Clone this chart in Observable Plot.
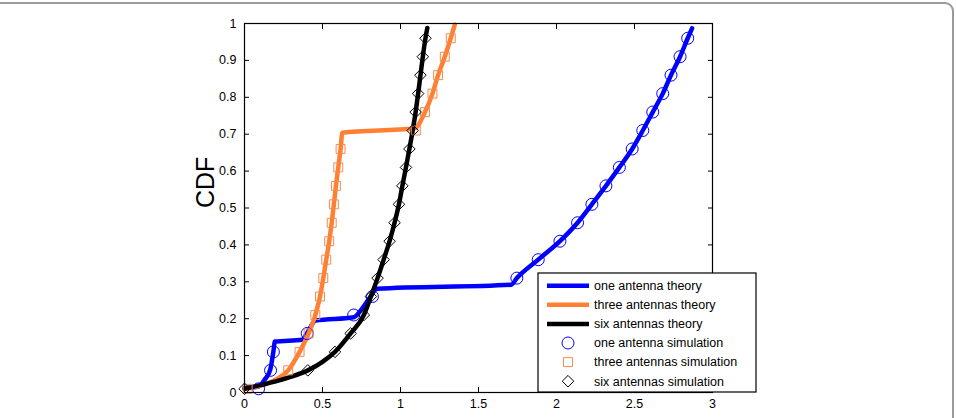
<!DOCTYPE html>
<html>
<head>
<meta charset="utf-8">
<script src="https://cdn.jsdelivr.net/npm/d3@7"></script>
<script src="https://cdn.jsdelivr.net/npm/@observablehq/plot@0.6"></script>
<style>
  html, body { margin: 0; padding: 0; background: #fff; overflow: hidden; }
  #wrap { position: relative; width: 956px; height: 418px; overflow: hidden; font-family: "Liberation Sans", Arial, Helvetica, sans-serif; }
  #border { position: absolute; top: 2px; left: -20px; width: 974px; height: 600px; border: 2px solid #9a9a9a; border-top-right-radius: 9px; box-sizing: border-box; }
  #chart { position: absolute; left: 0; top: 0; }
</style>
</head>
<body>
<div id="wrap"><div id="border"></div><div id="chart"></div></div>
<script>
// ---- data ----
const simCdf = [0.01, 0.06, 0.11, 0.16, 0.21, 0.26, 0.31, 0.36, 0.41, 0.46, 0.51, 0.56, 0.61, 0.66, 0.71, 0.76, 0.81, 0.86, 0.91, 0.96];

const oneTheoryX = [0, 0.09, 0.13, 0.165, 0.185, 0.195, 0.37, 0.40, 0.456, 0.70, 0.75, 0.80, 0.85, 1.71, 1.746, 1.883, 2.022, 2.135, 2.227, 2.317, 2.403, 2.485, 2.553, 2.617, 2.681, 2.734, 2.792, 2.841, 2.869];
const oneTheoryY = [0.012, 0.016, 0.035, 0.062, 0.11, 0.138, 0.143, 0.16, 0.195, 0.204, 0.225, 0.255, 0.281, 0.292, 0.31, 0.36, 0.41, 0.46, 0.51, 0.56, 0.61, 0.66, 0.71, 0.76, 0.81, 0.86, 0.91, 0.96, 0.987];

const threeTheoryX = [0, 0.1, 0.2, 0.28, 0.353, 0.411, 0.454, 0.484, 0.505, 0.524, 0.543, 0.559, 0.573, 0.586, 0.601, 0.616, 0.627, 1.09, 1.157, 1.205, 1.241, 1.284, 1.322, 1.348];
const threeTheoryY = [0.01, 0.018, 0.035, 0.06, 0.11, 0.16, 0.21, 0.26, 0.31, 0.36, 0.41, 0.46, 0.51, 0.56, 0.61, 0.66, 0.704, 0.716, 0.76, 0.81, 0.86, 0.91, 0.96, 0.997];

const sixTheoryX = [0, 0.1, 0.2, 0.3, 0.406, 0.5, 0.58, 0.68, 0.765, 0.81, 0.853, 0.892, 0.93, 0.962, 0.99, 1.012, 1.035, 1.057, 1.078, 1.097, 1.113, 1.128, 1.143, 1.16, 1.172];
const sixTheoryY = [0.01, 0.02, 0.03, 0.043, 0.06, 0.083, 0.11, 0.16, 0.21, 0.26, 0.31, 0.36, 0.41, 0.46, 0.51, 0.56, 0.61, 0.66, 0.71, 0.76, 0.81, 0.86, 0.91, 0.96, 0.988];

const oneSimX = [0.09, 0.167, 0.185, 0.402, 0.70, 0.82, 1.746, 1.883, 2.022, 2.135, 2.227, 2.317, 2.403, 2.485, 2.553, 2.617, 2.681, 2.734, 2.792, 2.841];
const threeSimX = [0.02, 0.28, 0.353, 0.411, 0.454, 0.484, 0.505, 0.524, 0.543, 0.559, 0.573, 0.586, 0.601, 0.616, 1.098, 1.157, 1.205, 1.241, 1.284, 1.322];
const sixSimX = [0, 0.406, 0.58, 0.68, 0.765, 0.81, 0.853, 0.892, 0.93, 0.962, 0.99, 1.012, 1.035, 1.057, 1.078, 1.097, 1.113, 1.128, 1.143, 1.16];

const xTicks = [0, 0.5, 1, 1.5, 2, 2.5, 3];
const yTicks = [0, 0.1, 0.2, 0.3, 0.4, 0.5, 0.6, 0.7, 0.8, 0.9, 1];
const legendLabels = ["one antenna theory", "three antennas theory", "six antennas theory", "one antenna simulation", "three antennas simulation", "six antennas simulation"];

// ---- build tables ----
const zip = (xs, ys) => xs.map((x, i) => ({x, y: ys[i]}));
const oneTheory = zip(oneTheoryX, oneTheoryY);
const threeTheory = zip(threeTheoryX, threeTheoryY);
const sixTheory = zip(sixTheoryX, sixTheoryY);
const oneSim = zip(oneSimX, simCdf);
const threeSim = zip(threeSimX, simCdf);
const sixSim = zip(sixSimX, simCdf);

const BLUE = "#0000ff", ORANGE = "#ff8033", BLACK = "#000000", ORANGE_M = "#f58a4e";
const fmt = d => String(d);

const svg = Plot.plot({
  width: 956,
  height: 418,
  marginLeft: 244,
  marginRight: 244,
  marginTop: 23,
  marginBottom: 26,
  style: {fontFamily: '"Liberation Sans", Arial, Helvetica, sans-serif', fontSize: "12px", background: "transparent", color: "#000"},
  x: {domain: [0, 3]},
  y: {domain: [0, 1]},
  marks: [
    Plot.line(oneTheory, {x: "x", y: "y", stroke: BLUE, strokeWidth: 4.5, curve: "monotone-x"}),
    Plot.line(threeTheory, {x: "x", y: "y", stroke: ORANGE, strokeWidth: 4.5, curve: "monotone-x"}),
    Plot.line(sixTheory, {x: "x", y: "y", stroke: BLACK, strokeWidth: 4.5, curve: "monotone-x"}),
    Plot.dot(oneSim, {x: "x", y: "y", r: 6, stroke: BLUE, strokeWidth: 1, fill: "none", symbol: "circle"}),
    Plot.dot(threeSim, {x: "x", y: "y", r: 5.7, stroke: ORANGE_M, strokeWidth: 1, fill: "none", symbol: "square2"}),
    Plot.dot(sixSim, {x: "x", y: "y", r: 5.2, stroke: BLACK, strokeWidth: 1, fill: "none", symbol: "diamond2"}),
    Plot.frame({stroke: "black", strokeWidth: 1.2}),
    Plot.axisX({anchor: "bottom", ticks: xTicks, tickFormat: fmt, tickSize: -5, tickPadding: 12, label: null, fontSize: 12.5}),
    Plot.axisX({anchor: "top", ticks: xTicks, tickFormat: () => "", tickSize: -5, label: null}),
    Plot.axisY({anchor: "left", ticks: yTicks, tickFormat: fmt, tickSize: -5, tickPadding: 13, label: null, fontSize: 12.5}),
    Plot.axisY({anchor: "right", ticks: yTicks, tickFormat: () => "", tickSize: -5, label: null}),
    Plot.text(["CDF"], {frameAnchor: "left", dx: -39, rotate: -90, fontSize: 25, fill: "black"})
  ]
});
document.getElementById("chart").appendChild(svg);

// ---- legend (drawn into the plot svg) ----
const lg = d3.select(svg).append("g")
  .attr("font-family", '"Liberation Sans", Arial, Helvetica, sans-serif')
  .attr("font-size", "12.5px")
  .attr("text-anchor", "start");
const lx = 538, ly = 273, lw = 218, lh = 119;
lg.append("rect").attr("x", lx).attr("y", ly).attr("width", lw).attr("height", lh).attr("fill", "white").attr("stroke", "black").attr("stroke-width", 1.2);
const styles = [
  {type: "line", color: BLUE},
  {type: "line", color: ORANGE},
  {type: "line", color: BLACK},
  {type: "sym", color: BLUE, sym: d3.symbolCircle, r: 6},
  {type: "sym", color: ORANGE_M, sym: d3.symbolSquare2, r: 5.7},
  {type: "sym", color: BLACK, sym: d3.symbolDiamond2, r: 5.2}
];
legendLabels.forEach((label, i) => {
  const cy = ly + 12.7 + i * 19.1;
  const s = styles[i];
  if (s.type === "line") {
    lg.append("line").attr("x1", lx + 9).attr("x2", lx + 51).attr("y1", cy).attr("y2", cy).attr("stroke", s.color).attr("stroke-width", 4.5);
  } else {
    lg.append("path").attr("d", d3.symbol(s.sym, Math.PI * s.r * s.r)()).attr("transform", `translate(${lx + 30},${cy})`).attr("fill", "none").attr("stroke", s.color).attr("stroke-width", 1);
  }
  lg.append("text").attr("x", lx + 56).attr("y", cy).attr("dy", "0.35em").attr("text-anchor", "start").attr("fill", "black").text(label);
});
</script>
</body>
</html>
